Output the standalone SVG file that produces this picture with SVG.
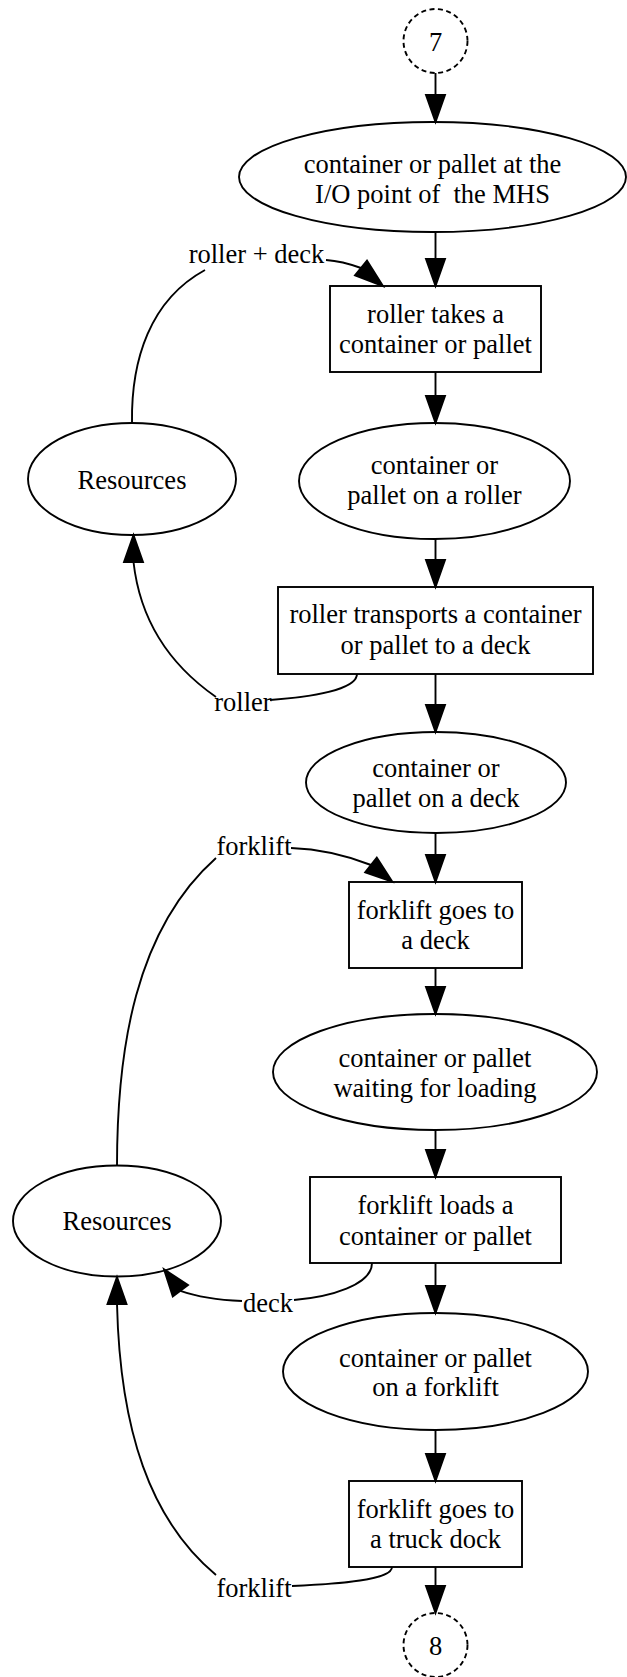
<svg xmlns="http://www.w3.org/2000/svg" width="627" height="1677" viewBox="0 0 627 1677">
  <style>
    .shape { fill: none; stroke: #000; stroke-width: 1.9; }
    .conn { fill: none; stroke: #000; stroke-width: 1.9; }
    .head { fill: #000; stroke: #000; stroke-width: 1.9; stroke-linejoin: miter; }
    .dashed { stroke-dasharray: 5 3.5; }
    text { font-family: "Liberation Serif", "Times New Roman", serif; font-size: 26.5px; fill: #000; text-anchor: middle; }
  </style>
  <rect width="627" height="1677" fill="#fff"/>

  <!-- connectors -->
  <g id="connectors">
    <!-- main flow -->
    <path class="conn" d="M435.5,73 V95"/>
    <polygon class="head" points="426,95 445,95 435.5,122"/>
    <path class="conn" d="M435.5,232 V259"/>
    <polygon class="head" points="426,259 445,259 435.5,286"/>
    <path class="conn" d="M435.5,372 V396"/>
    <polygon class="head" points="426,396 445,396 435.5,423"/>
    <path class="conn" d="M435.5,539 V560"/>
    <polygon class="head" points="426,560 445,560 435.5,587"/>
    <path class="conn" d="M435.5,674 V705"/>
    <polygon class="head" points="426,705 445,705 435.5,732"/>
    <path class="conn" d="M435.5,833 V855"/>
    <polygon class="head" points="426,855 445,855 435.5,882"/>
    <path class="conn" d="M435.5,968 V987"/>
    <polygon class="head" points="426,987 445,987 435.5,1014"/>
    <path class="conn" d="M435.5,1130 V1150"/>
    <polygon class="head" points="426,1150 445,1150 435.5,1177"/>
    <path class="conn" d="M435.5,1263 V1286"/>
    <polygon class="head" points="426,1286 445,1286 435.5,1313"/>
    <path class="conn" d="M435.5,1430 V1454"/>
    <polygon class="head" points="426,1454 445,1454 435.5,1481"/>
    <path class="conn" d="M435.5,1567 V1586"/>
    <polygon class="head" points="426,1586 445,1586 435.5,1613"/>

    <!-- Resources -> roller takes (roller + deck) -->
    <path class="conn" d="M132,423 C131,360 150,300 205,270"/>
    <path class="conn" d="M326,260 C340,261 350,264 361,268"/>
    <polygon class="head" points="355,275.4 383,286 367,260.6"/>
    <text x="256.5" y="263">roller + deck</text>

    <!-- roller transports -> Resources (roller) -->
    <path class="conn" d="M357,674 C357,690 310,697 270,700"/>
    <path class="conn" d="M216,697 C170,665 140,620 133.5,562"/>
    <polygon class="head" points="124,562 143,562 133.5,535"/>
    <text x="243" y="711">roller</text>

    <!-- Resources -> forklift goes to a deck (forklift) -->
    <path class="conn" d="M117,1166 C117,1050 135,930 216,858"/>
    <path class="conn" d="M291,848 C320,849 348,856 371,865"/>
    <polygon class="head" points="365.2,872.4 392.3,881.7 376.8,857.6"/>
    <text x="254" y="855">forklift</text>

    <!-- forklift loads -> Resources (deck) -->
    <path class="conn" d="M372,1263 C372,1285 330,1297 294,1300"/>
    <path class="conn" d="M242,1301 C220,1300 198,1297 180.4,1290.8"/>
    <polygon class="head" points="172.8,1296.5 164,1269.3 188,1285"/>
    <text x="268" y="1312">deck</text>

    <!-- forklift goes to a truck dock -> Resources (forklift) -->
    <path class="conn" d="M392,1567 C392,1580 340,1584 292,1586"/>
    <path class="conn" d="M216,1575 C150,1520 120,1430 117,1304"/>
    <polygon class="head" points="107.5,1304 126.5,1304 117,1277"/>
    <text x="254" y="1597">forklift</text>
  </g>

  <!-- nodes -->
  <g id="n_in">
    <circle class="shape dashed" cx="435.5" cy="41" r="32"/>
    <text x="435.5" y="51">7</text>
  </g>
  <g id="n_io">
    <ellipse class="shape" cx="432.5" cy="177" rx="193.5" ry="55"/>
    <text x="432.5" y="173">container or pallet at the</text>
    <text x="432.5" y="203" xml:space="preserve">I/O point of  the MHS</text>
  </g>
  <g id="n_roller_takes">
    <rect class="shape" x="330" y="286" width="211" height="86"/>
    <text x="435.5" y="323">roller takes a</text>
    <text x="435.5" y="353">container or pallet</text>
  </g>
  <g id="n_res1">
    <ellipse class="shape" cx="132" cy="479" rx="104" ry="56"/>
    <text x="132" y="489">Resources</text>
  </g>
  <g id="n_on_roller">
    <ellipse class="shape" cx="434.5" cy="481" rx="135.5" ry="58"/>
    <text x="434.5" y="474">container or</text>
    <text x="434.5" y="504">pallet on a roller</text>
  </g>
  <g id="n_roller_transports">
    <rect class="shape" x="278" y="587" width="315" height="87"/>
    <text x="435.5" y="623">roller transports a container</text>
    <text x="435.5" y="654">or pallet to a deck</text>
  </g>
  <g id="n_on_deck">
    <ellipse class="shape" cx="436" cy="782.5" rx="130" ry="50.5"/>
    <text x="436" y="777">container or</text>
    <text x="436" y="807">pallet on a deck</text>
  </g>
  <g id="n_forklift_deck">
    <rect class="shape" x="349" y="882" width="173" height="86"/>
    <text x="435.5" y="919">forklift goes to</text>
    <text x="435.5" y="949">a deck</text>
  </g>
  <g id="n_waiting">
    <ellipse class="shape" cx="435" cy="1072" rx="162" ry="58"/>
    <text x="435" y="1067">container or pallet</text>
    <text x="435" y="1097">waiting for loading</text>
  </g>
  <g id="n_res2">
    <ellipse class="shape" cx="117" cy="1221" rx="104" ry="55.5"/>
    <text x="117" y="1230">Resources</text>
  </g>
  <g id="n_forklift_loads">
    <rect class="shape" x="310" y="1177" width="251" height="86"/>
    <text x="435.5" y="1214">forklift loads a</text>
    <text x="435.5" y="1245">container or pallet</text>
  </g>
  <g id="n_on_forklift">
    <ellipse class="shape" cx="435.5" cy="1371.5" rx="152.5" ry="58.5"/>
    <text x="435.5" y="1367">container or pallet</text>
    <text x="435.5" y="1396">on a forklift</text>
  </g>
  <g id="n_truck_dock">
    <rect class="shape" x="349" y="1481" width="173" height="86"/>
    <text x="435.5" y="1518">forklift goes to</text>
    <text x="435.5" y="1548">a truck dock</text>
  </g>
  <g id="n_out">
    <circle class="shape dashed" cx="435.5" cy="1645" r="32"/>
    <text x="435.5" y="1655">8</text>
  </g>
</svg>
